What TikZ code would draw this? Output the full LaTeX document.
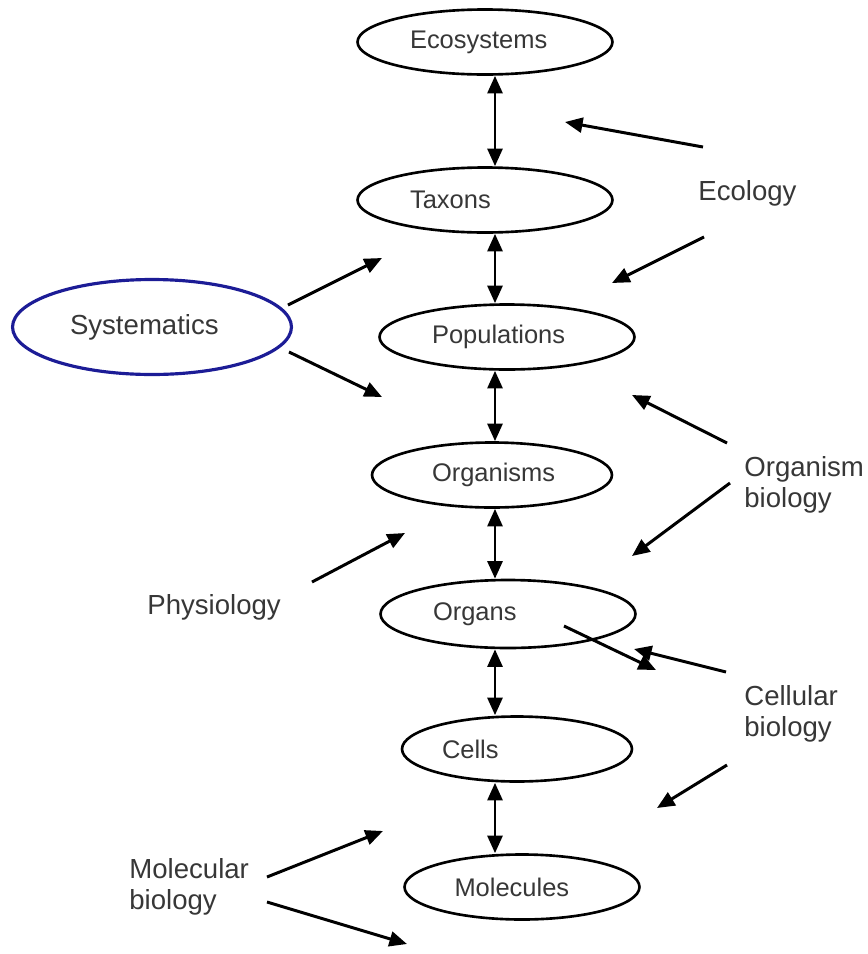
\documentclass[tikz,border=0pt]{standalone}
\usepackage{fontspec}
\setmainfont{Liberation Sans}
\usetikzlibrary{shapes.geometric,arrows.meta}
\definecolor{sysblue}{RGB}{28,28,150}
\definecolor{txtgray}{RGB}{55,55,55}
\begin{document}
\begin{tikzpicture}[x=0.02cm, y=-0.02cm,
    level/.style={ellipse, draw, line width=1.5pt, inner sep=0pt, minimum width=5.1cm, minimum height=1.3cm,
      text width=3cm, align=left, text=txtgray, font=\fontsize{14.5}{17}\selectfont},
    field/.style={align=left, anchor=west, inner sep=0pt, text=txtgray, font=\fontsize{15.7}{17.5}\selectfont},
    link/.style={-{Triangle[length=10pt,width=8.5pt]}, line width=1.7pt},
    both/.style={{Triangle[length=10pt,width=8.5pt]}-{Triangle[length=10pt,width=8.5pt]}, line width=1.7pt}]
  \useasboundingbox (0,0) rectangle (868,954);

  % levels of organisation
  \node[level] (eco) at (485,42) {Ecosystems};
  \node[level] (tax) at (485,200) {Taxons};
  \node[level] (pop) at (507,337) {Populations};
  \node[level, minimum width=4.8cm, text width=2.4cm] (org) at (492,475) {Organisms};
  \node[level, minimum height=1.36cm] (ogn) at (508,614) {Organs};
  \node[level, minimum width=4.6cm] (cel) at (517,749) {Cells};
  \node[level, minimum width=4.7cm, text width=2.7cm] (mol) at (522,887) {Molecules};

  \coordinate (spine) at (495,0);
  \draw[both] (eco.south -| spine) -- (tax.north -| spine);
  \draw[both] (tax.south -| spine) -- (pop.north -| spine);
  \draw[both] (pop.south -| spine) -- (org.north -| spine);
  \draw[both] (org.south -| spine) -- (ogn.north -| spine);
  \draw[both] (ogn.south -| spine) -- (cel.north -| spine);
  \draw[both] (cel.south -| spine) -- (mol.north -| spine);

  % disciplines
  \node[ellipse, draw=sysblue, line width=1.8pt, inner sep=0pt, minimum width=5.58cm, minimum height=1.9cm,
    text width=3.28cm, align=left, text=txtgray, font=\fontsize{15.7}{17.5}\selectfont] (sys) at (152,327) {Systematics};
  \node[field] (ecol) at (698,193) {Ecology};
  \node[field] (orgb) at (744,485) {Organism\\biology};
  \node[field] (phys) at (147,607) {Physiology};
  \node[field] (cellb) at (744,714) {Cellular\\biology};
  \node[field] (molb) at (129,887) {Molecular\\biology};

  \coordinate (E1) at (703,147);  \coordinate (E1t) at (565,122);
  \coordinate (E2) at (704,237);  \coordinate (E2t) at (612,283);
  \coordinate (S1) at (288,305);  \coordinate (S1t) at (382,258);
  \coordinate (S2) at (289,352);  \coordinate (S2t) at (382,397);
  \coordinate (O1) at (727,443);  \coordinate (O1t) at (632,395);
  \coordinate (O2) at (730,483);  \coordinate (O2t) at (632,556);
  \coordinate (P1) at (312,582);  \coordinate (P1t) at (405,533);
  \coordinate (G1) at (564,626);  \coordinate (G1t) at (656,670);
  \coordinate (C1) at (726,672);  \coordinate (C1t) at (634,649);
  \coordinate (C2) at (727,765);  \coordinate (C2t) at (657,808);
  \coordinate (M1) at (267,877);  \coordinate (M1t) at (383,831);
  \coordinate (M2) at (267,902);  \coordinate (M2t) at (407,944);

  \foreach \a in {E1,E2,S1,S2,O1,O2,P1,G1,C1,C2,M1,M2}
    \draw[link] (\a) -- (\a t);
\end{tikzpicture}
\end{document}
